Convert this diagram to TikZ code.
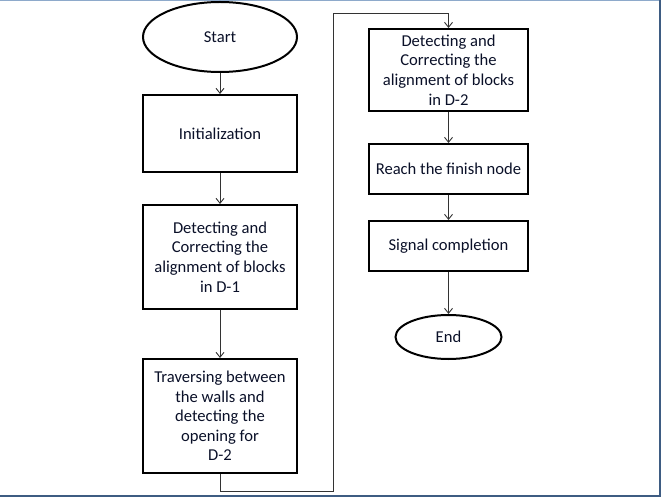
\documentclass[tikz,border=0pt]{standalone}
\usepackage{fontspec}
\setmainfont{Carlito}
\usetikzlibrary{shapes.geometric,arrows.meta}
\definecolor{txt}{HTML}{0A1028}
\definecolor{frameA}{HTML}{8EAACB}
\definecolor{frameB}{HTML}{3E5C82}
\definecolor{conn}{HTML}{333333}
\tikzset{
  box/.style={draw=black, line width=2pt, rectangle, minimum width=154pt, align=center, inner sep=0pt, text=txt, font=\fontsize{16.6}{19.6}\selectfont},
  term/.style={draw=black, line width=2pt, ellipse, inner sep=0pt, text=txt, font=\fontsize{16.6}{19.6}\selectfont},
  flow/.style={draw=conn, line width=0.9pt, -{Straight Barb[length=5pt,width=8pt]}},
}
\begin{document}
\begin{tikzpicture}[x=1pt,y=-1pt]
\useasboundingbox (0,0) rectangle (661,497);
% frame
\draw[frameA, line width=1.5pt] (0,0.75) -- (660,0.75);
\draw[frameB, line width=1.5pt] (660,0) -- (660,496) -- (0,496);
% left column
\node[term, minimum width=154pt, minimum height=70pt] (start) at (220,37) {Start};
\node[box, minimum height=77pt] (init) at (220,133.5) {Initialization};
\node[box, minimum height=104pt] (d1) at (220,257) {Detecting and\\Correcting the\\alignment of blocks\\in D-1};
\node[box, minimum height=114pt] (trav) at (220,416) {Traversing between\\the walls and\\detecting the\\opening for\\D-2};
% right column
\node[box, minimum width=159pt, minimum height=82pt] (d2) at (448.5,70) {Detecting and\\Correcting the\\alignment of blocks\\in D-2};
\node[box, minimum width=159pt, minimum height=50pt] (reach) at (448.5,169) {Reach the finish node};
\node[box, minimum width=159pt, minimum height=50pt] (sig) at (448.5,246) {Signal completion};
\node[term, minimum width=106pt, minimum height=44pt] (end) at (448.5,337) {End};
% connectors
\draw[flow] (start) -- (init);
\draw[flow] (init) -- (d1);
\draw[flow] (d1) -- (trav);
\coordinate (c1) at (333,491);
\coordinate (c2) at (333,13);
\draw[flow] (trav.south) |- (c1) -- (c2) -| (d2.north);
\draw[flow] (d2) -- (reach);
\draw[flow] (reach) -- (sig);
\draw[flow] (sig) -- (end);
\end{tikzpicture}
\end{document}
